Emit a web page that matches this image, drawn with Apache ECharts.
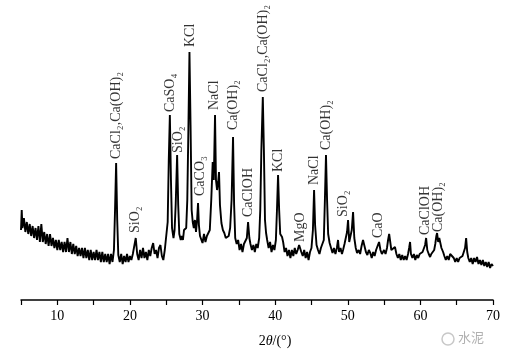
<!DOCTYPE html>
<html>
<head>
<meta charset="utf-8">
<script src="https://cdn.jsdelivr.net/npm/echarts@6/dist/echarts.min.js"></script>
<style>
html,body{margin:0;padding:0;background:#fff;}
#c{width:520px;height:363px;}
</style>
</head>
<body>
<div id="c"></div>
<script>
// XRD scan: [2theta (deg), intensity (a.u.)]
var xrdScan = [
[5.0,70],[5.1,90],[5.2,72],[5.4,82],[5.6,68],[5.8,78],[6.0,66],[6.2,76],[6.4,64],[6.6,74],[6.8,62],[7.0,72],
[7.2,60],[7.4,74],[7.6,58],[7.8,76],[8.0,58],[8.2,68],[8.4,56],[8.6,66],[8.8,54],[9.0,66],[9.2,54],[9.4,62],
[9.6,52],[9.8,60],[10.0,50],[10.2,60],[10.4,50],[10.6,58],[10.8,48],[11.0,58],[11.2,48],[11.4,62],[11.6,48],
[11.8,58],[12.0,46],[12.2,56],[12.4,46],[12.6,54],[12.8,44],[13.0,52],[13.2,44],[13.4,52],[13.6,42],[13.8,52],
[14.0,42],[14.2,50],[14.4,40],[14.6,50],[14.8,40],[15.0,48],[15.2,40],[15.4,50],[15.6,40],[15.8,48],[16.0,38],
[16.2,48],[16.4,38],[16.6,46],[16.8,38],[17.0,46],[17.2,36],[17.4,46],[17.6,38],[17.8,50],[17.95,90],[18.1,137],
[18.25,80],[18.4,45],[18.6,38],[18.8,46],[19.0,36],[19.2,44],[19.4,38],[19.6,46],[19.8,38],[20.0,44],[20.2,40],
[20.4,46],[20.6,44],[20.8,62],[21.0,46],[21.2,40],[21.4,50],[21.6,42],[21.8,52],[22.0,42],[22.2,48],[22.4,40],
[22.6,50],[22.8,44],[23.0,52],[23.2,57],[23.4,46],[23.6,50],[23.8,42],[24.0,52],[24.2,55],[24.4,44],[24.6,40],
[24.8,50],[25.0,52],[25.2,78],[25.35,140],[25.5,185],[25.65,120],[25.8,72],[26.0,62],[26.15,70],[26.3,95],
[26.5,145],[26.65,95],[26.8,66],[27.0,60],[27.15,64],[27.3,60],[27.45,70],[27.6,68],[27.75,72],[27.9,100],
[28.05,170],[28.2,248],[28.35,175],[28.5,90],[28.65,78],[28.8,72],[28.95,80],[29.1,68],[29.25,80],[29.38,97],
[29.5,75],[29.65,64],[29.8,62],[30.0,57],[30.2,66],[30.4,58],[30.6,64],[30.8,62],[31.0,70],[31.2,100],[31.4,138],
[31.55,120],[31.72,185],[31.85,120],[32.0,110],[32.15,118],[32.27,128],[32.4,95],[32.6,77],[32.8,70],[33.0,67],
[33.2,62],[33.4,60],[33.6,64],[33.8,72],[34.0,100],[34.2,163],[34.35,95],[34.5,62],[34.7,56],[34.9,60],[35.1,50],
[35.3,56],[35.5,48],[35.7,56],[35.9,54],[36.1,62],[36.27,78],[36.45,62],[36.6,56],[36.8,50],[37.0,55],[37.2,48],
[37.4,56],[37.6,52],[37.8,62],[37.95,90],[38.1,150],[38.3,203],[38.45,150],[38.6,80],[38.75,67],[38.9,60],
[39.1,52],[39.3,58],[39.5,48],[39.7,55],[39.9,50],[40.1,60],[40.25,90],[40.4,125],[40.55,90],[40.7,66],[40.95,63],
[41.1,58],[41.3,48],[41.5,52],[41.7,44],[41.9,50],[42.1,42],[42.3,50],[42.5,44],[42.7,52],[42.9,46],[43.1,50],
[43.3,55],[43.45,53],[43.6,48],[43.8,44],[44.0,50],[44.2,42],[44.4,48],[44.6,40],[44.8,48],[45.0,52],[45.2,70],
[45.36,110],[45.5,75],[45.7,55],[45.9,50],[46.1,46],[46.3,52],[46.5,50],[46.7,60],[46.85,100],[47.0,145],
[47.15,100],[47.3,66],[47.5,57],[47.7,52],[47.9,47],[48.1,52],[48.3,46],[48.5,52],[48.66,60],[48.8,48],[49.0,52],
[49.2,46],[49.35,50],[49.55,56],[49.75,58],[49.9,68],[50.04,80],[50.2,58],[50.4,60],[50.55,70],[50.73,88],
[50.9,62],[51.1,52],[51.28,47],[51.5,50],[51.7,46],[51.9,54],[52.1,60],[52.3,54],[52.5,48],[52.7,45],[52.9,50],
[53.1,47],[53.3,42],[53.5,48],[53.7,44],[53.9,50],[54.1,52],[54.31,58],[54.5,50],[54.7,46],[54.86,45],[55.0,50],
[55.2,46],[55.4,52],[55.55,60],[55.7,66],[55.85,58],[56.0,50],[56.24,48],[56.5,53],[56.7,46],[56.9,42],[57.1,46],
[57.3,40],[57.5,45],[57.7,40],[57.9,44],[58.1,40],[58.3,46],[58.45,52],[58.58,58],[58.7,46],[58.9,42],[59.1,46],
[59.3,40],[59.5,45],[59.7,42],[59.9,46],[60.1,44],[60.3,48],[60.5,50],[60.65,55],[60.79,62],[60.95,50],[61.15,46],
[61.34,43],[61.5,46],[61.7,44],[61.9,50],[62.05,56],[62.2,64],[62.3,67],[62.45,58],[62.6,62],[62.71,60],[62.9,52],
[63.13,48],[63.3,44],[63.5,40],[63.7,44],[63.9,40],[64.1,46],[64.37,48],[64.6,42],[64.8,38],[65.0,42],[65.2,38],
[65.4,42],[65.6,40],[65.8,44],[66.0,46],[66.15,52],[66.3,62],[66.45,48],[66.6,42],[66.8,38],[67.0,42],[67.2,36],
[67.4,42],[67.6,38],[67.8,43],[68.0,36],[68.2,40],[68.4,35],[68.6,40],[68.8,34],[69.0,38],[69.2,33],[69.4,38],
[69.6,32],[69.8,36],[70.0,34]
];

// phase annotations
var phaseNames = ['CaCl₂,Ca(OH)₂','SiO₂','CaSO₄','SiO₂','KCl','CaCO₃','NaCl','Ca(OH)₂','CaClOH',
  'CaCl₂,Ca(OH)₂','KCl','MgO','NaCl','Ca(OH)₂','SiO₂','CaO','CaClOH','Ca(OH)₂'];
var phaseTheta = [18.1,20.8,25.5,26.6,28.28,29.66,31.58,34.2,36.27,38.33,40.4,43.43,45.36,47.05,49.35,54.17,60.7,62.5];
var phaseBase  = [141,67,188,147,253,104,190,170,83,208,128,58,115,150,83,62,65,68];

var xTickLabels = ['10','20','30','40','50','60','70'];

var chart = echarts.init(document.getElementById('c'), null, {renderer:'canvas'});
var serif = '"Liberation Serif","Times New Roman",serif';

chart.setOption({
  backgroundColor:'#ffffff',
  animation:false,
  grid:{left:21,right:27,top:20,bottom:63},
  xAxis:{
    type:'value', min:5, max:70, interval:5,
    name:'2{i|θ}/(°)', nameLocation:'middle', nameGap:34,
    nameTextStyle:{fontFamily:serif,fontSize:14,color:'#000',padding:[0,0,0,36],
      rich:{i:{fontFamily:serif,fontStyle:'italic',fontSize:14,color:'#000'}}},
    axisLine:{lineStyle:{color:'#000',width:1.5}},
    axisTick:{show:true,length:5,inside:false,lineStyle:{color:'#000',width:1.2}},
    axisLabel:{fontFamily:serif,fontSize:14,color:'#000',margin:9,
      formatter:function(v){ var s=String(v); return xTickLabels.indexOf(s)>=0 ? s : ''; }},
    splitLine:{show:false}
  },
  yAxis:{type:'value',min:0,max:280,show:false},
  series:[
    {type:'line',data:xrdScan,showSymbol:false,symbol:'none',
     lineStyle:{color:'#000',width:1.9},z:3},
    {type:'scatter',symbolSize:0,z:4,
     data:phaseTheta.map(function(t,i){return {value:[t,phaseBase[i]],name:phaseNames[i]};}),
     label:{show:true,position:'top',distance:0,rotate:90,align:'left',verticalAlign:'middle',
       fontFamily:serif,fontSize:14,color:'#000',
       formatter:function(p){return p.name;}}}
  ],
  graphic:[
    {type:'circle',shape:{cx:448,cy:339,r:6},style:{fill:'none',stroke:'#c8c8c8',lineWidth:1.5}},
    {type:'text',left:458,top:331,style:{text:'水泥',fontFamily:'"Noto Sans CJK SC",sans-serif',fontSize:13,fill:'#b0b0b0'}}
  ]
});
</script>
</body>
</html>
